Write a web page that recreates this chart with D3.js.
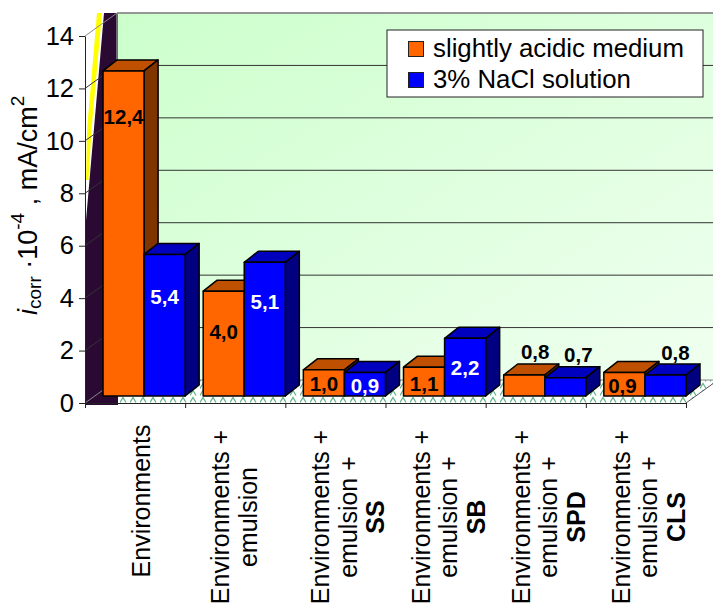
<!DOCTYPE html>
<html>
<head>
<meta charset="utf-8">
<style>
  body { margin: 0; background: #fff; }
  svg { display: block; }
  text { font-family: "Liberation Sans", Arial, sans-serif; fill: #000; }
</style>
</head>
<body>
<div id="chart"></div>
<script src="https://d3js.org/d3.v7.min.js"></script>
<script>
// Chart values
var categories = ["Environments", "Environments + emulsion", "Environments + emulsion + SS",
  "Environments + emulsion + SB", "Environments + emulsion + SPD", "Environments + emulsion + CLS"];
var categoryLines = [
  ["Environments"],
  ["Environments +", "emulsion"],
  ["Environments +", "emulsion +", "SS"],
  ["Environments +", "emulsion +", "SB"],
  ["Environments +", "emulsion +", "SPD"],
  ["Environments +", "emulsion +", "CLS"]
];
var seriesNames = ["slightly acidic medium", "3% NaCl solution"];
var acidicValues = [12.4, 4.0, 1.0, 1.1, 0.8, 0.9];
var naclValues = [5.4, 5.1, 0.9, 2.2, 0.7, 0.8];
var yTicks = [0, 2, 4, 6, 8, 10, 12, 14];

// Hand placed data labels, [dx, dy] from the top middle of the bar front
var acidicLabelShift = [[0, 46], [0, 41], [0, 14], [0, 17], [11, -23], [-2, 13]];
var naclLabelShift = [[0, 42], [0, 40], [0, 13], [0, 29], [13, -23], [10, -22]];

var colors = [
  { front: "#ff6600", top: "#bf5000", side: "#803500" },
  { front: "#0000ff", top: "#0000bf", side: "#000080" }
];

var width = 713, height = 604;
var left = 85, right = 686, bottom = 403, top14 = 36;
var wallDx = 32, wallDy = 23;      // depth of the floor
var barDx = 14, barDy = 11;        // depth of one bar
var inDx = 9, inDy = 7;            // how far the bars stand back from the front edge

var svg = d3.select("#chart").append("svg")
  .attr("width", width)
  .attr("height", height);

var y = d3.scaleLinear().domain([0, 14]).range([bottom, top14]);
var xTicks = d3.scaleLinear().domain([0, 6]).range([left, right]);
var x = d3.scaleBand()
  .domain(categories)
  .range([left + inDx, right + inDx])
  .paddingInner(0.18)
  .paddingOuter(0.09);
var xSeries = d3.scaleBand().domain([0, 1]).range([0, x.bandwidth()]);

var defs = svg.append("defs");

var wallGrad = defs.append("linearGradient")
  .attr("id", "wallGrad")
  .attr("x1", "0%").attr("y1", "0%")
  .attr("x2", "100%").attr("y2", "100%");
wallGrad.append("stop").attr("offset", "0%").attr("stop-color", "#ccffcc");
wallGrad.append("stop").attr("offset", "100%").attr("stop-color", "#f0fff0");

var floorPattern = defs.append("pattern")
  .attr("id", "floorPattern")
  .attr("patternUnits", "userSpaceOnUse")
  .attr("width", 10)
  .attr("height", 7)
  .attr("y", 396);
floorPattern.append("rect").attr("width", 10).attr("height", 7).attr("fill", "#fff");
floorPattern.append("path")
  .attr("d", "M0,6.5L3,1.5L6,6.5")
  .attr("fill", "none")
  .attr("stroke", "#5fb38c")
  .attr("stroke-width", 1.2);

// Back wall
svg.append("rect")
  .attr("x", left + wallDx)
  .attr("y", top14 - wallDy)
  .attr("width", width - left - wallDx)
  .attr("height", bottom - top14)
  .attr("fill", "url(#wallGrad)");

// Floor
svg.append("polygon")
  .attr("points", [[left, bottom], [right, bottom], [right + wallDx, bottom - wallDy], [left + wallDx, bottom - wallDy]].join(" "))
  .attr("fill", "url(#floorPattern)");

// Side wall: yellow streak and dark fill
svg.append("polygon")
  .attr("points", "97,13 102,13 91.5,130 88.5,180 86,180 87,130")
  .attr("fill", "#ffff00");
svg.append("polygon")
  .attr("points", "104,13 118,13 118,405 85,405 85,232")
  .attr("fill", "#2a0a33");

// Wall edges
svg.append("line")
  .attr("x1", left + wallDx).attr("y1", y(14) - wallDy)
  .attr("x2", width).attr("y2", y(14) - wallDy)
  .attr("stroke", "#888").attr("stroke-width", 1.5);
svg.append("line")
  .attr("x1", left + wallDx).attr("y1", y(14) - wallDy)
  .attr("x2", left + wallDx).attr("y2", y(0) - wallDy)
  .attr("stroke", "#888").attr("stroke-width", 1.5);

// Gridlines, running up the side wall and across the back
svg.selectAll(".grid")
  .data(yTicks)
  .enter().append("polyline")
  .attr("class", "grid")
  .attr("points", d => [[left, y(d)], [left + wallDx, y(d) - wallDy], [width, y(d) - wallDy]].join(" "))
  .attr("fill", "none")
  .attr("stroke", d => (d === 0 || d === 14) ? "#888" : "#333")
  .attr("stroke-width", 1);

// Floor right edge
svg.append("line")
  .attr("x1", right).attr("y1", bottom)
  .attr("x2", right + wallDx).attr("y2", bottom - wallDy)
  .attr("stroke", "#555");

// Axes
var yAxis = svg.append("g")
  .attr("transform", "translate(" + left + ",0)")
  .call(d3.axisLeft(y).tickValues(yTicks).tickSize(6).tickSizeOuter(0).tickPadding(5));
yAxis.selectAll("text").style("font-size", "25.5px");
yAxis.selectAll("line, path").attr("stroke", "#222");

var xAxis = svg.append("g")
  .attr("transform", "translate(0," + bottom + ")")
  .call(d3.axisBottom(xTicks).tickValues(d3.range(7)).tickSize(5).tickSizeOuter(0).tickFormat(""));
xAxis.selectAll("line, path").attr("stroke", "#222");

// Category labels, rotated, one text per line
var catLabels = svg.selectAll(".cat")
  .data(categories)
  .enter().append("g")
  .attr("class", "cat")
  .attr("transform", (d, i) => {
    var one = categoryLines[i].length === 1;
    return "translate(" + (xTicks(i) + 50 + (one ? 15 : -6)) + "," + (one ? 501 : 517) + ") rotate(-90)";
  });
catLabels.selectAll("text")
  .data((d, i) => categoryLines[i].map((line, j) => ({ line: line, j: j })))
  .enter().append("text")
  .attr("y", d => d.j * 27.5)
  .attr("text-anchor", "middle")
  .style("font-size", "25px")
  .style("font-weight", d => d.j === 2 ? "bold" : "normal")
  .text(d => d.line);

// Bars: front, top and side faces
var barData = [];
categories.forEach((c, i) => {
  [acidicValues[i], naclValues[i]].forEach((v, s) => {
    barData.push({ cat: c, i: i, s: s, value: v });
  });
});

var bars = svg.selectAll(".bar")
  .data(barData)
  .enter().append("g")
  .attr("class", "bar")
  .attr("stroke", "#000")
  .attr("stroke-width", 1.5)
  .attr("stroke-linejoin", "round");

function barBox(d) {
  var x0 = x(d.cat) + xSeries(d.s);
  return { x0: x0, x1: x0 + xSeries.bandwidth(), y0: y(d.value) - inDy, y1: y(0) - inDy };
}

bars.append("polygon")
  .attr("fill", d => colors[d.s].top)
  .attr("points", d => {
    var b = barBox(d);
    return [[b.x0, b.y0], [b.x1, b.y0], [b.x1 + barDx, b.y0 - barDy], [b.x0 + barDx, b.y0 - barDy]].join(" ");
  });
bars.append("polygon")
  .attr("fill", d => colors[d.s].side)
  .attr("points", d => {
    var b = barBox(d);
    return [[b.x1, b.y0], [b.x1 + barDx, b.y0 - barDy], [b.x1 + barDx, b.y1 - barDy], [b.x1, b.y1]].join(" ");
  });
bars.append("rect")
  .attr("fill", d => colors[d.s].front)
  .attr("x", d => barBox(d).x0)
  .attr("y", d => barBox(d).y0)
  .attr("width", xSeries.bandwidth())
  .attr("height", d => barBox(d).y1 - barBox(d).y0);

// Data labels
svg.selectAll(".val")
  .data(barData)
  .enter().append("text")
  .attr("class", "val")
  .attr("text-anchor", "middle")
  .attr("dy", "0.35em")
  .attr("x", d => {
    var b = barBox(d);
    var shift = (d.s === 0 ? acidicLabelShift : naclLabelShift)[d.i];
    return (b.x0 + b.x1) / 2 + shift[0];
  })
  .attr("y", d => barBox(d).y0 + (d.s === 0 ? acidicLabelShift : naclLabelShift)[d.i][1])
  .style("font-size", "20.5px")
  .style("font-weight", "bold")
  .style("fill", d => {
    var shift = (d.s === 0 ? acidicLabelShift : naclLabelShift)[d.i];
    return (d.s === 1 && shift[1] > 0) ? "#fff" : "#000";
  })
  .text(d => d.value.toFixed(1).replace(".", ","));

// Legend
var legend = svg.append("g");
legend.append("rect")
  .attr("x", 387).attr("y", 30)
  .attr("width", 316).attr("height", 67)
  .attr("fill", "#fff")
  .attr("stroke", "#222");
seriesNames.forEach((name, i) => {
  legend.append("rect")
    .attr("x", 408.5).attr("y", 41.5 + i * 31)
    .attr("width", 15).attr("height", 15)
    .attr("fill", colors[i].front)
    .attr("stroke", "#222");
  legend.append("text")
    .attr("x", 433).attr("y", 57 + i * 31)
    .style("font-size", "25.8px")
    .text(name);
});

// Y axis title with sub and superscripts
var yTitle = svg.append("text")
  .attr("transform", "translate(37,315) rotate(-90)")
  .style("font-size", "27px");
yTitle.append("tspan").style("font-style", "italic").text("i");
yTitle.append("tspan").attr("dy", 4).style("font-size", "19px").text("corr");
yTitle.append("tspan").attr("dy", -4).text(" \u00b710");
yTitle.append("tspan").attr("dy", -13).style("font-size", "19px").text("-4");
yTitle.append("tspan").attr("dy", 13).text(" , mA/cm");
yTitle.append("tspan").attr("dy", -13).style("font-size", "19px").text("2");
</script>
</body>
</html>
